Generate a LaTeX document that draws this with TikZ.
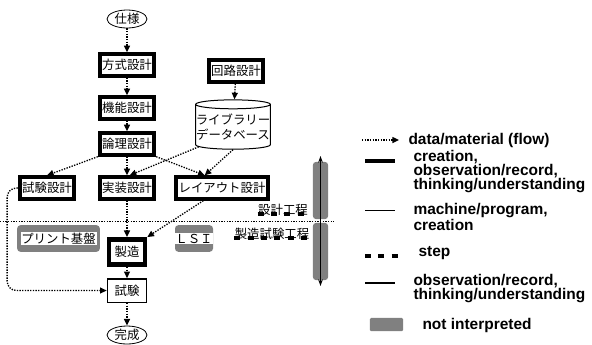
\documentclass[tikz,border=0pt]{standalone}
\usepackage{fontspec}
\setsansfont{Liberation Sans}
\newfontfamily\jpfont{Noto Sans CJK JP}
\usetikzlibrary{arrows.meta,shapes.geometric}

\tikzset{every picture/.style={line width=0.75pt}}
\tikzset{
  jp/.style={font=\jpfont\fontsize{9.3}{11}\selectfont},
  work/.style={jp, draw, line width=3pt, fill=white, inner xsep=1.8pt, inner ysep=0pt, minimum height=16pt},
  plain/.style={jp, draw, line width=1pt, fill=white, minimum width=29.5pt, minimum height=17.5pt, inner sep=1pt},
  terminal/.style={jp, draw, ellipse, line width=0.6pt, inner sep=0pt, minimum width=30pt, minimum height=13.5pt},
  flow/.style={line width=1pt, dash pattern=on 1pt off 1pt, -{Triangle[length=5pt,width=4.5pt]}},
  stepline/.style={line width=2.6pt, dash pattern=on 4.5pt off 5.5pt},
  unread/.style={fill=gray, rounded corners=2.5pt, inner sep=0pt},
  chip/.style={jp, fill=white, inner sep=0.6pt},
  legend/.style={font=\sffamily\bfseries\fontsize{11.6}{10.5}\selectfont, anchor=west, align=left, inner sep=0pt},
}

\begin{document}
\begin{tikzpicture}[x=0.75pt,y=0.75pt,yscale=-1]
\useasboundingbox (0,0) rectangle (592,344);
% design steps
\node[terminal] (spec) at (127,19) {仕様};
\node[work] (method) at (127,65) {方式設計};
\node[work] (func) at (127,108) {機能設計};
\node[work] (logic) at (127,144) {論理設計};
\node[work] (circuit) at (236,71) {回路設計};
\node[jp, cylinder, shape border rotate=90, draw, fill=white, aspect=0.12, minimum width=56pt, minimum height=37pt, inner sep=0pt, align=center] (lib) at (233,127) {ライブラリー\\データベース};
\node[work] (testdes) at (47,188) {試験設計};
\node[work] (impl) at (127,188) {実装設計};
\node[work] (layout) at (222,188) {レイアウト設計};

\draw[line width=0.5pt, dash pattern=on 1pt off 1pt] (0,221) -- (334,221);

% not interpreted
\node[unread, minimum width=62pt, minimum height=20pt, label={[chip]center:プリント基盤}] (pcb) at (58.5,238.5) {};
\node[unread, minimum width=28.5pt, minimum height=20pt, label={[chip]center:ＬＳＩ}] (lsi) at (194,238.5) {};

% manufacturing and test
\node[work, line width=3.4pt, minimum width=27pt, minimum height=19pt] (fab) at (127,252) {製造};
\node[plain] (test) at (127,290.5) {試験};
\node[terminal] (done) at (127,335) {完成};

% phases
\node[jp, inner sep=0pt] (dphase) at (283,210) {設計工程};
\node[jp, inner sep=0pt] (mphase) at (272,234) {製造試験工程};
\draw[stepline] ([yshift=-1.5pt]dphase.south west) -- ([yshift=-1.5pt]dphase.south east);
\draw[stepline] ([yshift=-1.5pt]mphase.south west) -- ([yshift=-1.5pt]mphase.south east);
\node[unread, minimum width=11.5pt, minimum height=43pt] (upbar) at (320.5,190.5) {};
\node[unread, minimum width=11.5pt, minimum height=43pt] (downbar) at (320.5,251.5) {};
\draw[line width=0.8pt, -{Stealth[length=5pt,width=3.5pt]}] ([yshift=4pt]upbar.south) -- ([yshift=-4pt]upbar.north);
\draw[line width=0.8pt, -{Stealth[length=5pt,width=3.5pt]}] ([yshift=-4pt]downbar.north) -- ([yshift=4pt]downbar.south);

% flows
\draw[flow] (spec) -- (method);
\draw[flow] (method) -- (func);
\draw[flow] (func) -- (logic);
\draw[flow] (circuit) -- (lib);
\draw[flow] (logic.south west) -- (testdes.north);
\draw[flow] (logic) -- (impl);
\draw[flow] (logic.south east) -- ([xshift=-13pt]layout.north);
\draw[flow] (lib.210) -- ([xshift=2pt]impl.north);
\draw[flow] (lib.south) -- ([xshift=-13pt]layout.north);
\draw[flow] (impl) -- (fab);
\draw[flow] ([xshift=-14pt]layout.south) -- (fab.north east);
\draw[flow] (fab) -- (test);
\draw[flow] (test) -- (done);
\draw[flow, rounded corners=7pt] (testdes.west) -- ++(-8pt,0) |- (test.west);

% legend
\draw[flow] (362,140) -- (399,140);
\node[legend] (lflow) at (408,140) {data/material (flow)};
\draw[line width=3pt] (365,161) -- (395,161);
\node[legend] (lmake) at (413,172) {creation,\\observation/record,\\thinking/understanding};
\draw[line width=0.4pt] (365,210) -- (395,210);
\node[legend] (lmachine) at (413,217) {machine/program,\\creation};
\draw[stepline] (365,256) -- (400,256);
\node[legend] (lstep) at (418,253) {step};
\draw[line width=0.9pt] (365,283) -- (395,283);
\node[legend] (lobserve) at (413,289) {observation/record,\\thinking/understanding};
\node[unread, rounded corners=1pt, minimum width=25pt, minimum height=10pt] (lgray) at (386.5,324.5) {};
\node[legend] (lunread) at (422,325) {not interpreted};
\end{tikzpicture}
\end{document}
